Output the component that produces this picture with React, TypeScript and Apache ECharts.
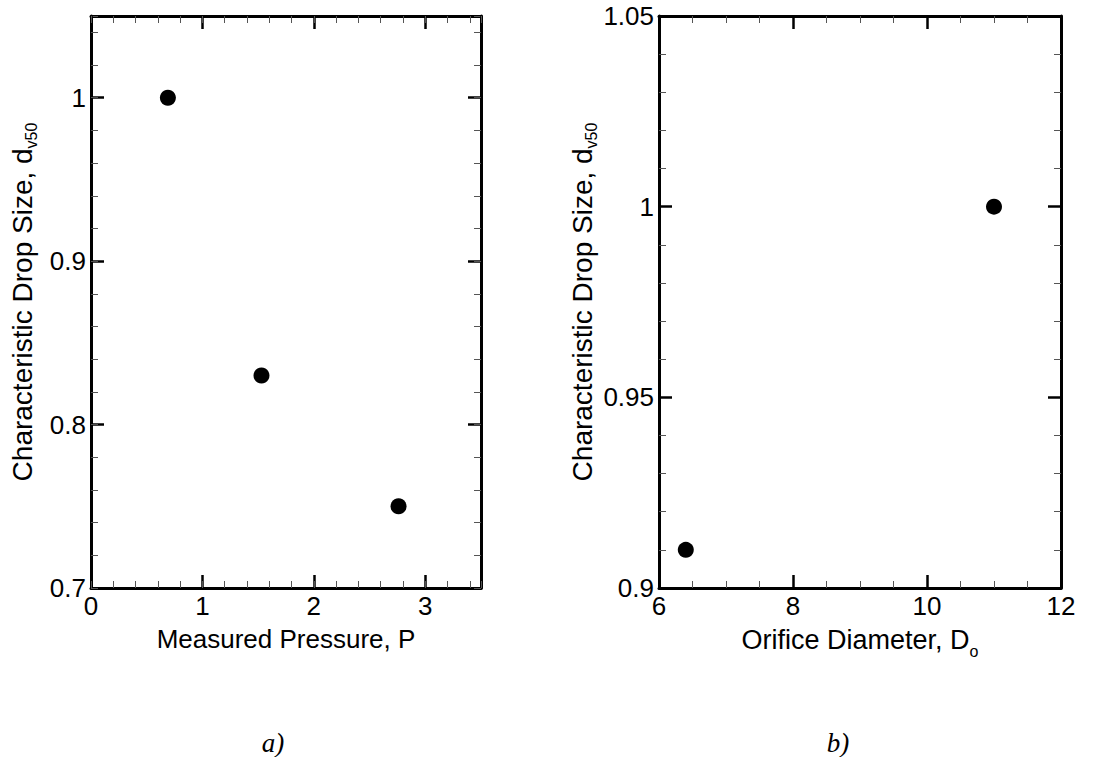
import React, { useEffect, useRef } from "react";
import * as echarts from "echarts";

// ---- data ----
const pressure = [0.69, 1.53, 2.76];
const dropSizeA = [1.0, 0.83, 0.75];
const orifice = [6.4, 11.0];
const dropSizeB = [0.91, 1.0];

// axis ranges / tick steps
const xRangeA = [0, 3.5];
const xMajorA = 1;
const xMinorA = 0.2;
const yRangeA = [0.7, 1.05];
const yMajorA = 0.1;
const yMinorA = 0.02;
const xRangeB = [6, 12];
const xMajorB = 2;
const xMinorSplitB = 4;
const yRangeB = [0.9, 1.05];
const yMajorB = 0.05;
const yMinorSplitB = 5;

// texts
const yNameRich = "{m|Characteristic Drop Size, d}{s|v50}";
const xNameA = "Measured Pressure, P";
const xNameBRich = "{m|Orifice Diameter, D}{s|o}";
const panelLabels = ["a)", "b)"];

const FONT = '"Liberation Sans", Arial, Helvetica, sans-serif';
const SERIF = '"Liberation Serif", "Times New Roman", serif';

function majorAxis(
  gridIndex: number,
  position: string,
  range: number[],
  interval: number,
  showLabels: boolean,
  extra: any = {}
) {
  const { axisLabel: extraLabel, ...rest } = extra;
  return {
    type: "value",
    gridIndex,
    position,
    min: range[0],
    max: range[1],
    interval,
    axisLine: { show: true, onZero: false, lineStyle: { color: "#000", width: 3 } },
    axisTick: { show: true, inside: true, length: 13, lineStyle: { color: "#000", width: 2.5 } },
    axisLabel: {
      show: showLabels,
      fontSize: 26,
      fontFamily: FONT,
      color: "#000",
      margin: 5,
      ...(extraLabel || {}),
    },
    splitLine: { show: false },
    ...rest,
  };
}

function minorAxis(gridIndex: number, position: string, range: number[], interval: number) {
  return {
    type: "value",
    gridIndex,
    position,
    min: range[0],
    max: range[1],
    interval,
    axisLine: { show: false, onZero: false },
    axisTick: { show: true, inside: true, length: 7, lineStyle: { color: "#555", width: 1 } },
    axisLabel: { show: false },
    splitLine: { show: false },
  };
}

const minorTickB = (split: number) => ({
  show: true,
  splitNumber: split,
  length: 7,
  lineStyle: { color: "#555", width: 1 },
});

const yNameStyle = {
  color: "#000",
  fontFamily: FONT,
  fontSize: 28,
  rich: {
    m: { fontSize: 28, fontFamily: FONT, color: "#000", lineHeight: 34, verticalAlign: "middle" },
    s: { fontSize: 16, fontFamily: FONT, color: "#000", lineHeight: 16, verticalAlign: "bottom" },
  },
};

const xNameStyleB = {
  color: "#000",
  fontFamily: FONT,
  fontSize: 27,
  rich: {
    m: { fontSize: 27, fontFamily: FONT, color: "#000", lineHeight: 39, verticalAlign: "middle" },
    s: { fontSize: 16, fontFamily: FONT, color: "#000", lineHeight: 16, verticalAlign: "bottom" },
  },
};

export default function App() {
  const ref = useRef<HTMLDivElement>(null);

  useEffect(() => {
    if (!ref.current) return;
    const chart = echarts.init(ref.current, null, { renderer: "svg" });

    const option: any = {
      animation: false,
      backgroundColor: "#fff",
      grid: [
        { left: 91, top: 16, width: 390, height: 572 },
        { left: 659, top: 16, width: 402, height: 572 },
      ],
      xAxis: [
        // panel a
        majorAxis(0, "bottom", xRangeA, xMajorA, true, {
          axisLabel: { showMaxLabel: false },
          name: xNameA,
          nameLocation: "middle",
          nameGap: 38,
          nameTextStyle: { color: "#000", fontFamily: FONT, fontSize: 26 },
        }),
        minorAxis(0, "bottom", xRangeA, xMinorA),
        majorAxis(0, "top", xRangeA, xMajorA, false),
        minorAxis(0, "top", xRangeA, xMinorA),
        // panel b
        majorAxis(1, "bottom", xRangeB, xMajorB, true, {
          minorTick: minorTickB(xMinorSplitB),
          name: xNameBRich,
          nameLocation: "middle",
          nameGap: 32,
          nameTextStyle: xNameStyleB,
        }),
        majorAxis(1, "top", xRangeB, xMajorB, false, { minorTick: minorTickB(xMinorSplitB) }),
      ],
      yAxis: [
        // panel a
        majorAxis(0, "left", yRangeA, yMajorA, true, {
          axisLabel: { showMaxLabel: false },
          name: yNameRich,
          nameLocation: "middle",
          nameGap: 52,
          nameTextStyle: yNameStyle,
        }),
        minorAxis(0, "left", yRangeA, yMinorA),
        majorAxis(0, "right", yRangeA, yMajorA, false),
        minorAxis(0, "right", yRangeA, yMinorA),
        // panel b
        majorAxis(1, "left", yRangeB, yMajorB, true, {
          minorTick: minorTickB(yMinorSplitB),
          name: yNameRich,
          nameLocation: "middle",
          nameGap: 58,
          nameTextStyle: yNameStyle,
        }),
        majorAxis(1, "right", yRangeB, yMajorB, false, { minorTick: minorTickB(yMinorSplitB) }),
      ],
      series: [
        {
          type: "scatter",
          xAxisIndex: 0,
          yAxisIndex: 0,
          data: pressure.map((x, i) => [x, dropSizeA[i]]),
          symbol: "circle",
          symbolSize: 16,
          itemStyle: { color: "#000", opacity: 1 },
        },
        {
          type: "scatter",
          xAxisIndex: 4,
          yAxisIndex: 4,
          data: orifice.map((x, i) => [x, dropSizeB[i]]),
          symbol: "circle",
          symbolSize: 16,
          itemStyle: { color: "#000", opacity: 1 },
        },
      ],
      graphic: [
        {
          type: "text",
          x: 273,
          y: 756,
          style: {
            text: panelLabels[0],
            fontFamily: SERIF,
            fontStyle: "italic",
            fontSize: 27,
            fill: "#000",
            align: "center",
            verticalAlign: "bottom",
          },
        },
        {
          type: "text",
          x: 838,
          y: 756,
          style: {
            text: panelLabels[1],
            fontFamily: SERIF,
            fontStyle: "italic",
            fontSize: 27,
            fill: "#000",
            align: "center",
            verticalAlign: "bottom",
          },
        },
      ],
    };

    chart.setOption(option);
    return () => chart.dispose();
  }, []);

  return (
    <div
      ref={ref}
      style={{ position: "absolute", left: 0, top: 0, width: 1102, height: 757, background: "#fff" }}
    />
  );
}
